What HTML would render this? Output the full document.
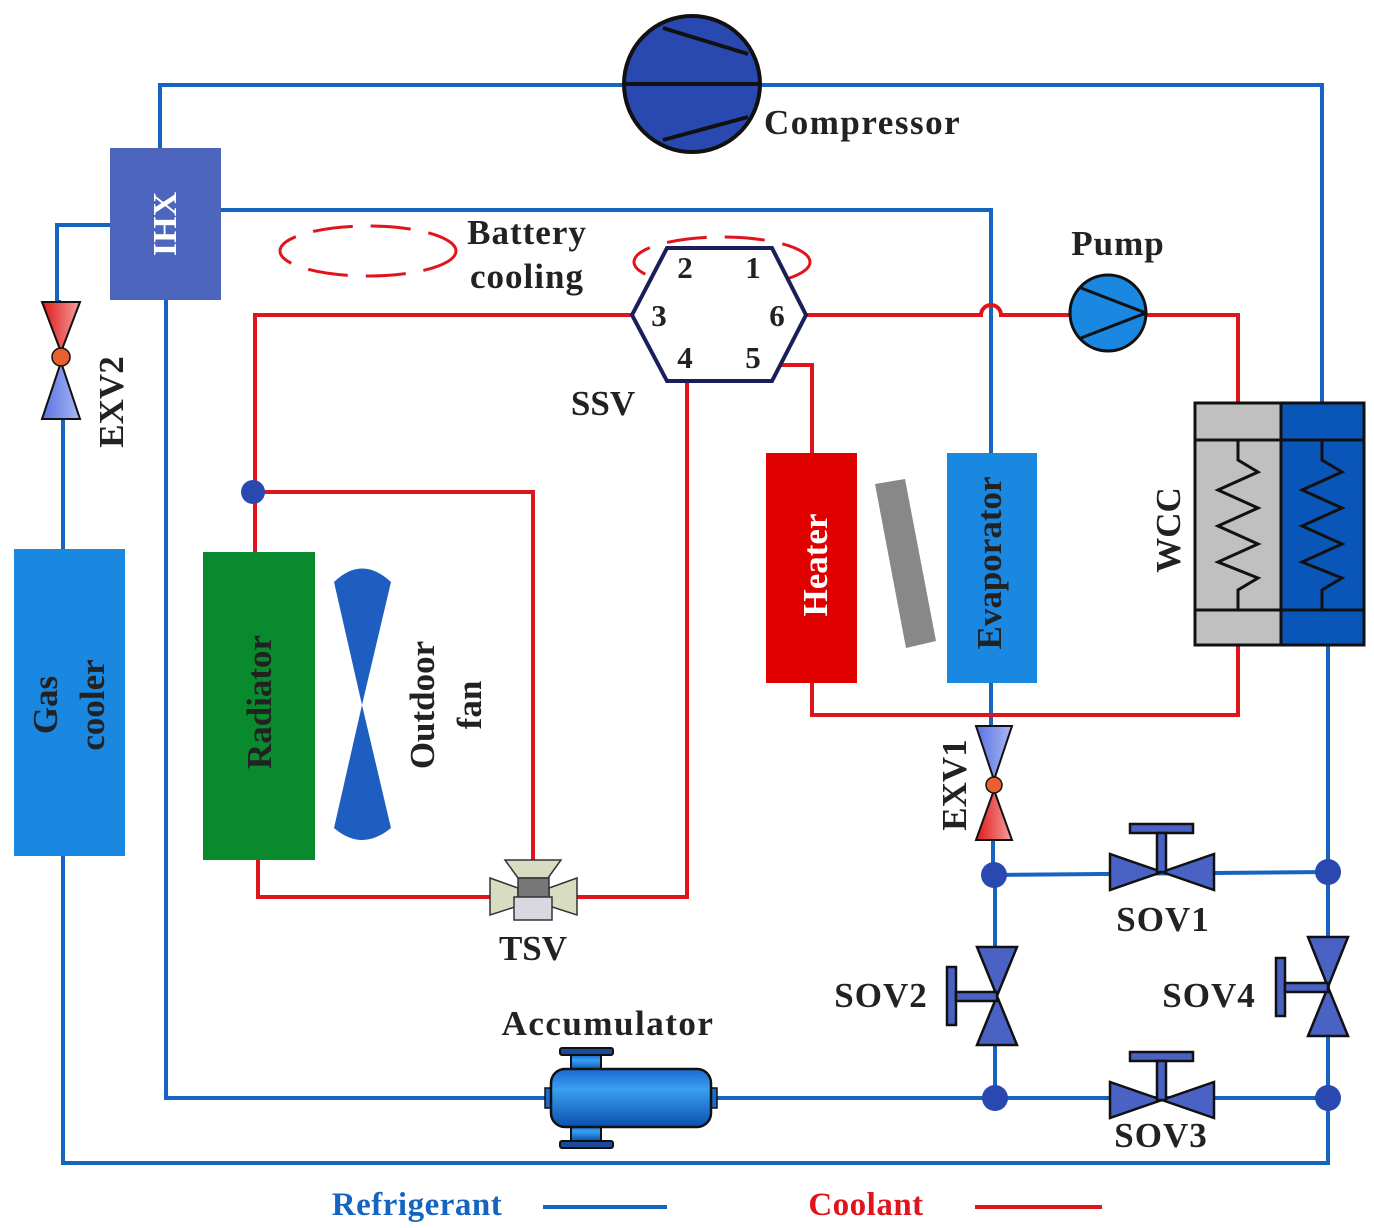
<!DOCTYPE html>
<html><head><meta charset="utf-8"><style>
html,body{margin:0;padding:0;background:#fff;}
svg{display:block;}
text{font-family:"Liberation Serif",serif;font-weight:bold;}
</style></head><body>
<svg width="1374" height="1228" viewBox="0 0 1374 1228" xmlns="http://www.w3.org/2000/svg">
<defs>
<linearGradient id="rg" x1="0" x2="1"><stop offset="0" stop-color="#e01818"/><stop offset="1" stop-color="#f5a0a0"/></linearGradient>
<linearGradient id="bg" x1="0" x2="1"><stop offset="0" stop-color="#5a72e0"/><stop offset="1" stop-color="#a8b8f5"/></linearGradient>
<linearGradient id="acc" x1="0" y1="0" x2="0" y2="1"><stop offset="0" stop-color="#1a6ad0"/><stop offset="0.35" stop-color="#3aa0f0"/><stop offset="1" stop-color="#0a50b0"/></linearGradient>
</defs>
<g fill="none" stroke="#1565c0" stroke-width="4">
<polyline points="160,148 160,85 1322,85 1322,403"/>
<polyline points="1328,645 1328,1163 63,1163 63,856"/>
<polyline points="63,549 63,420"/>
<polyline points="61,302 57,302 57,225 110,225"/>
<polyline points="221,210 991,210 991,453"/>
<polyline points="991,683 991,728"/>
<polyline points="993,840 993,875 1328,872"/>
<polyline points="166,300 166,1098 1328,1098"/>
<polyline points="995,875 995,1098"/>
</g>
<g fill="none" stroke="#e0141c" stroke-width="4">
<polyline points="632,315 255,315 255,552"/>
<polyline points="253,492 533,492 533,862"/>
<polyline points="258,860 258,897 492,897"/>
<polyline points="577,897 687,897 687,381"/>
<polyline points="776,365 812,365 812,453"/>
<polyline points="812,683 812,715 1238,715 1238,645"/>
<path d="M1238,403 L1238,315 L1147,315 M1069,315 L1001,315 A10,10 0 0 0 981,315 L806,315"/>
</g>
<ellipse cx="368" cy="251" rx="88" ry="25" fill="none" stroke="#e0141c" stroke-width="3" stroke-dasharray="40,18"/>
<ellipse cx="722" cy="262" rx="88" ry="25" fill="none" stroke="#e0141c" stroke-width="3" stroke-dasharray="40,18"/>
<circle cx="692" cy="84" r="68" fill="#2a49b0" stroke="#111" stroke-width="4"/>
<g stroke="#111" stroke-width="4"><line x1="624" y1="84" x2="760" y2="84"/><line x1="663" y1="28" x2="748" y2="54"/><line x1="663" y1="140" x2="748" y2="117"/></g>
<text x="764" y="134" font-size="35" letter-spacing="1.5" fill="#222">Compressor</text>
<rect x="110" y="148" width="111" height="152" fill="#4e65be"/>
<text transform="translate(176,224) rotate(-90)" font-size="34" fill="#fff" text-anchor="middle">IHX</text>
<polygon points="42,302 80,302 61,352" fill="url(#rg)" stroke="#111" stroke-width="2"/>
<polygon points="61,362 42,419 80,419" fill="url(#bg)" stroke="#111" stroke-width="2"/>
<circle cx="61" cy="357" r="9" fill="#e86030" stroke="#111" stroke-width="1.5"/>
<text transform="translate(123,402) rotate(-90)" font-size="35" fill="#222" text-anchor="middle">EXV2</text>
<rect x="14" y="549" width="111" height="307" fill="#1a87e0"/>
<text transform="translate(57,705) rotate(-90)" font-size="35" fill="#222" text-anchor="middle">Gas</text>
<text transform="translate(104,705) rotate(-90)" font-size="35" fill="#222" text-anchor="middle">cooler</text>
<rect x="203" y="552" width="112" height="308" fill="#0a8a2e"/>
<text transform="translate(271,702) rotate(-90)" font-size="35" fill="#222" text-anchor="middle">Radiator</text>
<path d="M334,582 Q362,555 391,582 L362,705 Z M362,705 L391,828 Q362,852 334,828 Z" fill="#1d5ec0"/>
<text transform="translate(434,705) rotate(-90)" font-size="35" fill="#222" text-anchor="middle">Outdoor</text>
<text transform="translate(481,705) rotate(-90)" font-size="35" fill="#222" text-anchor="middle">fan</text>
<circle cx="253" cy="492" r="12" fill="#2a49b0"/>
<polygon points="505,860 561,860 548,878 518,878" fill="#d8dcc0" stroke="#333" stroke-width="1.5"/>
<polygon points="490,878 518,888 518,906 490,915" fill="#d8dcc0" stroke="#333" stroke-width="1.5"/>
<polygon points="577,878 549,888 549,906 577,915" fill="#d8dcc0" stroke="#333" stroke-width="1.5"/>
<rect x="518" y="878" width="31" height="20" fill="#777" stroke="#333" stroke-width="1.5"/>
<rect x="514" y="897" width="38" height="23" fill="#d8d8e0" stroke="#333" stroke-width="1.5"/>
<text x="533" y="960" font-size="35" fill="#222" text-anchor="middle">TSV</text>
<polygon points="632,315 667,248 772,248 806,315 772,381 667,381" fill="#fff" stroke="#1a1f5a" stroke-width="4"/>
<g font-size="31" fill="#222" text-anchor="middle"><text x="685" y="278">2</text><text x="753" y="278">1</text><text x="659" y="326">3</text><text x="777" y="326">6</text><text x="685" y="368">4</text><text x="753" y="368">5</text></g>
<text x="603" y="415" font-size="35" fill="#222" text-anchor="middle">SSV</text>
<text x="527" y="244" font-size="35" letter-spacing="1" fill="#222" text-anchor="middle">Battery</text>
<text x="527" y="288" font-size="35" letter-spacing="1" fill="#222" text-anchor="middle">cooling</text>
<circle cx="1108" cy="313" r="38" fill="#1a87e0" stroke="#111" stroke-width="3"/>
<g stroke="#111" stroke-width="3"><line x1="1081" y1="288" x2="1146" y2="313"/><line x1="1081" y1="338" x2="1146" y2="313"/></g>
<text x="1118" y="255" font-size="35" letter-spacing="1" fill="#222" text-anchor="middle">Pump</text>
<rect x="766" y="453" width="91" height="230" fill="#e00000"/>
<text transform="translate(827,565) rotate(-90)" font-size="35" fill="#fff" text-anchor="middle">Heater</text>
<polygon points="875,484 905,479 936,641 906,648" fill="#888"/>
<rect x="947" y="453" width="90" height="230" fill="#1a87e0"/>
<text transform="translate(1001,563) rotate(-90)" font-size="35" fill="#222" text-anchor="middle">Evaporator</text>
<polygon points="976,726 1012,726 994,780" fill="url(#bg)" stroke="#111" stroke-width="2"/>
<polygon points="994,790 976,840 1012,840" fill="url(#rg)" stroke="#111" stroke-width="2"/>
<circle cx="994" cy="785" r="8" fill="#e86030" stroke="#111" stroke-width="1.5"/>
<text transform="translate(966,785) rotate(-90)" font-size="35" fill="#222" text-anchor="middle">EXV1</text>
<rect x="1195" y="403" width="86" height="242" fill="#c0c0c0" stroke="#111" stroke-width="3"/>
<rect x="1281" y="403" width="83" height="242" fill="#0a55b8" stroke="#111" stroke-width="3"/>
<g stroke="#111" stroke-width="3" fill="none">
<line x1="1195" y1="440" x2="1364" y2="440"/><line x1="1195" y1="610" x2="1364" y2="610"/>
<polyline points="1238,440 1238,460 1258,472 1218,490 1258,508 1218,526 1258,544 1218,562 1258,578 1238,590 1238,610"/>
<polyline points="1322,440 1322,460 1342,472 1302,490 1342,508 1302,526 1342,544 1302,562 1342,578 1322,590 1322,610"/>
</g>
<text transform="translate(1180,530) rotate(-90)" font-size="35" fill="#222" text-anchor="middle">WCC</text>
<g fill="#2a49b0"><circle cx="994" cy="875" r="13"/><circle cx="1328" cy="872" r="13"/><circle cx="995" cy="1098" r="13"/><circle cx="1328" cy="1098" r="13"/></g>
<g fill="#4a62c4" stroke="#111" stroke-width="2.5">
<polygon points="1110,854 1110,890 1162,872"/><polygon points="1214,854 1214,890 1162,872"/>
<rect x="1130" y="824" width="63" height="9"/><rect x="1157" y="833" width="9" height="39"/>
<polygon points="1110,1082 1110,1118 1162,1100"/><polygon points="1214,1082 1214,1118 1162,1100"/>
<rect x="1130" y="1052" width="63" height="9"/><rect x="1157" y="1061" width="9" height="39"/>
<polygon points="977,947 1017,947 997,996"/><polygon points="977,1045 1017,1045 997,996"/>
<rect x="947" y="967" width="9" height="58"/><rect x="956" y="992" width="41" height="9"/>
<polygon points="1308,937 1348,937 1328,987"/><polygon points="1308,1036 1348,1036 1328,987"/>
<rect x="1276" y="958" width="9" height="58"/><rect x="1285" y="983" width="43" height="9"/>
</g>
<g font-size="35" letter-spacing="1" fill="#222" text-anchor="middle">
<text x="1163" y="931">SOV1</text><text x="881" y="1007">SOV2</text><text x="1209" y="1007">SOV4</text><text x="1161" y="1147">SOV3</text>
</g>
<rect x="560" y="1048" width="53" height="7" rx="2" fill="#1a4a9a" stroke="#111" stroke-width="2"/>
<rect x="571" y="1055" width="30" height="15" fill="url(#acc)" stroke="#111" stroke-width="2"/>
<rect x="560" y="1141" width="53" height="7" rx="2" fill="#1a4a9a" stroke="#111" stroke-width="2"/>
<rect x="571" y="1126" width="30" height="15" fill="url(#acc)" stroke="#111" stroke-width="2"/>
<rect x="545" y="1088" width="8" height="20" fill="#1a6ad0" stroke="#111" stroke-width="1.5"/>
<rect x="709" y="1088" width="8" height="20" fill="#1a6ad0" stroke="#111" stroke-width="1.5"/>
<rect x="551" y="1069" width="160" height="58" rx="14" fill="url(#acc)" stroke="#111" stroke-width="2.5"/>
<text x="608" y="1035" font-size="35" letter-spacing="1.5" fill="#222" text-anchor="middle">Accumulator</text>
<text x="417" y="1215" font-size="33" letter-spacing="0.5" fill="#1565c0" text-anchor="middle">Refrigerant</text>
<line x1="543" y1="1207" x2="667" y2="1207" stroke="#1565c0" stroke-width="4"/>
<text x="866" y="1215" font-size="33" letter-spacing="0.5" fill="#e0141c" text-anchor="middle">Coolant</text>
<line x1="975" y1="1207" x2="1102" y2="1207" stroke="#e0141c" stroke-width="4"/>
</svg>
</body></html>
